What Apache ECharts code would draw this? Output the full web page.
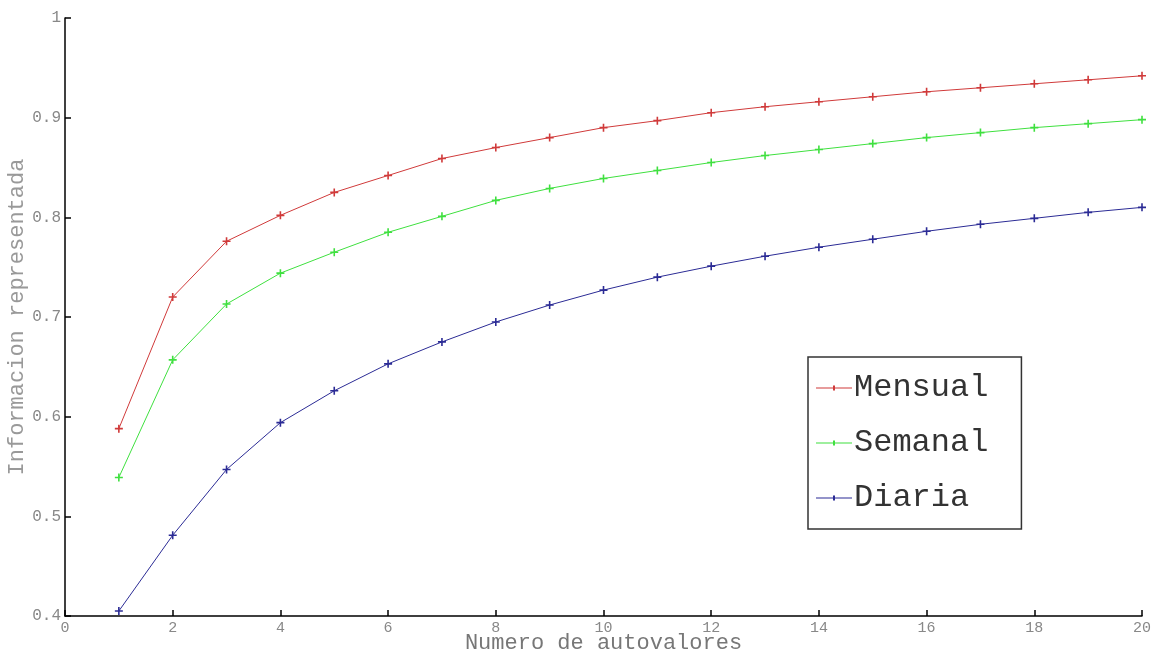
<!DOCTYPE html>
<html><head><meta charset="utf-8">
<script src="https://cdn.jsdelivr.net/npm/echarts@6/dist/echarts.min.js"></script>
<style>html,body{margin:0;padding:0;background:#fff}#c{width:1157px;height:655px}</style>
</head><body><div id="c"></div>
<script>
const xValues = [1,2,3,4,5,6,7,8,9,10,11,12,13,14,15,16,17,18,19,20];
const mensual = [0.588,0.720,0.776,0.802,0.825,0.842,0.859,0.870,0.880,0.890,0.897,0.905,0.911,0.916,0.921,0.926,0.930,0.934,0.938,0.942];
const semanal = [0.539,0.657,0.713,0.744,0.765,0.785,0.801,0.817,0.829,0.839,0.847,0.855,0.862,0.868,0.874,0.880,0.885,0.890,0.894,0.898];
const diaria  = [0.405,0.481,0.547,0.594,0.626,0.653,0.675,0.695,0.712,0.727,0.740,0.751,0.761,0.770,0.778,0.786,0.793,0.799,0.805,0.810];
const seriesNames = ['Mensual','Semanal','Diaria'];
const colors = ['#d03a3a','#3fe03f','#2b2b95'];
const xLabelName = 'Numero de autovalores';
const yLabelName = 'Informacion representada';

const plus = 'path://M-1,-5 L1,-5 L1,-1 L5,-1 L5,1 L1,1 L1,5 L-1,5 L-1,1 L-5,1 L-5,-1 L-1,-1 Z';
const legendIcon = 'path://M0,9 L36,9 L36,10 L0,10 Z M17,7 L19,7 L19,12 L17,12 Z';
const font = '"Liberation Mono","DejaVu Sans Mono",monospace';

function mk(name, vals, color){
  return {
    name, type:'line', data: xValues.map((x,i)=>[x, vals[i]]),
    symbol: plus, symbolSize: 8, showSymbol:true,
    itemStyle:{color}, lineStyle:{color, width:1}, animation:false
  };
}
const chart = echarts.init(document.getElementById('c'));
chart.setOption({
  animation:false,
  grid:{left:65, right:15, top:18, bottom:39, containLabel:false, outerBoundsMode:'none'},
  xAxis:{type:'value', min:0, max:20, interval:2,
    name:xLabelName, nameLocation:'middle', nameGap:16, nameMoveOverlap:false,
    nameTextStyle:{fontFamily:font, fontSize:22, color:'#777'},
    axisLine:{lineStyle:{color:'#000', width:1.5}},
    axisTick:{inside:true, length:6, lineStyle:{color:'#000', width:1.5}},
    axisLabel:{fontFamily:font, fontSize:15, color:'#888', margin:5},
    splitLine:{show:false}},
  yAxis:{type:'value', min:0.4, max:1, interval:0.1,
    name:yLabelName, nameLocation:'middle', nameGap:37, nameMoveOverlap:false,
    nameTextStyle:{fontFamily:font, fontSize:22, color:'#999'},
    axisLine:{show:true, lineStyle:{color:'#000', width:1.5}},
    axisTick:{show:true, inside:true, length:6, lineStyle:{color:'#000', width:1.5}},
    axisLabel:{fontFamily:font, fontSize:16, color:'#888', margin:4,
      formatter:v=>{const r=Math.round(v*10)/10; return r===1?'1':r.toFixed(1);}},
    splitLine:{show:false}},
  legend:{
    data: seriesNames.map(n=>({name:n, icon:legendIcon})),
    orient:'vertical', left:808, top:357,
    itemWidth:36, itemHeight:18, itemGap:19,
    padding:[13,33,13,8],
    borderColor:'#333', borderWidth:1.5, backgroundColor:'#fff',
    textStyle:{fontFamily:font, fontSize:32, lineHeight:36, color:'#333', padding:[0,0,0,-3]},
    selectedMode:false
  },
  series:[mk('Mensual',mensual,colors[0]), mk('Semanal',semanal,colors[1]), mk('Diaria',diaria,colors[2])]
});
</script></body></html>
